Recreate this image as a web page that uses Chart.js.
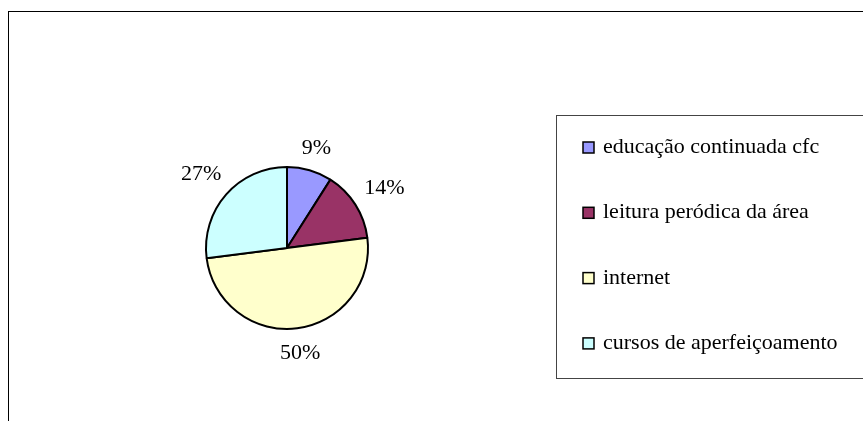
<!DOCTYPE html>
<html>
<head>
<meta charset="utf-8">
<script src="https://cdn.jsdelivr.net/npm/chart.js@4.4.1/dist/chart.umd.min.js"></script>
<style>
  html, body { margin: 0; padding: 0; background: #fff; overflow: hidden; }
  body { width: 863px; height: 421px; position: relative; }
  .frame { position: absolute; left: 8px; top: 11px; width: 900px; height: 450px; border: 1px solid #000; box-sizing: border-box; }
  .wrap { position: absolute; left: 0; top: 0; width: 863px; height: 421px; }
</style>
</head>
<body>
<div class="frame"></div>
<div class="wrap"><canvas id="pie"></canvas></div>

<script>
// ── Data ──────────────────────────────────────────────────────
const LABELS = ['educação continuada cfc', 'leitura peródica da área', 'internet', 'cursos de aperfeiçoamento'];
const VALUES = [9, 14, 50, 27];
const COLORS = ['#9999FF', '#993366', '#FFFFCC', '#CCFFFF'];

const FONT = '22px "Liberation Serif", "Times New Roman", serif';

// ── Outside percent labels ────────────────────────────────────
const outsideLabels = {
  id: 'outsideLabels',
  afterDatasetsDraw(chart) {
    const { ctx } = chart;
    const meta = chart.getDatasetMeta(0);
    const total = VALUES.reduce((s, v) => s + v, 0);
    ctx.save();
    ctx.font = FONT;
    ctx.fillStyle = '#000';
    ctx.textAlign = 'center';
    ctx.textBaseline = 'middle';
    meta.data.forEach((arc, i) => {
      const mid = (arc.startAngle + arc.endAngle) / 2;
      const txt = Math.round(VALUES[i] / total * 100) + '%';
      const w = ctx.measureText(txt).width;
      const h = 16;
      const cos = Math.cos(mid), sin = Math.sin(mid);
      const d = arc.outerRadius + 13 + Math.abs(cos) * w / 2 + Math.abs(sin) * h / 2;
      ctx.fillText(txt, arc.x + cos * d, arc.y + sin * d + 2);
    });
    ctx.restore();
  }
};

// ── Boxed legend at the right ─────────────────────────────────
const boxLegend = {
  id: 'boxLegend',
  afterDraw(chart) {
    const { ctx } = chart;
    const left = 556.5, top = 115.5, bottom = 378.5;
    ctx.save();
    ctx.strokeStyle = '#444';
    ctx.lineWidth = 1;
    ctx.fillStyle = '#fff';
    ctx.fillRect(left, top, 340, bottom - top);
    ctx.strokeRect(left, top, 340, bottom - top);

    ctx.font = FONT;
    ctx.textBaseline = 'alphabetic';
    ctx.textAlign = 'left';
    LABELS.forEach((l, i) => {
      const base = 153 + i * 65.3;
      ctx.fillStyle = COLORS[i];
      ctx.fillRect(583, base - 11, 11, 11);
      ctx.strokeStyle = '#000';
      ctx.lineWidth = 1.5;
      ctx.strokeRect(583, base - 11, 11, 11);
      ctx.fillStyle = '#000';
      ctx.fillText(l, 603, base);
    });
    ctx.restore();
  }
};

// ── Pie ───────────────────────────────────────────────────────
new Chart(document.getElementById('pie'), {
  type: 'pie',
  data: {
    labels: LABELS,
    datasets: [{
      data: VALUES,
      backgroundColor: COLORS,
      borderColor: '#000',
      borderWidth: 2
    }]
  },
  options: {
    responsive: true,
    maintainAspectRatio: false,
    animation: false,
    layout: { padding: { left: 205, right: 494, top: 166, bottom: 91 } },
    plugins: { legend: { display: false }, tooltip: { enabled: false } }
  },
  plugins: [outsideLabels, boxLegend]
});
</script>
</body>
</html>
